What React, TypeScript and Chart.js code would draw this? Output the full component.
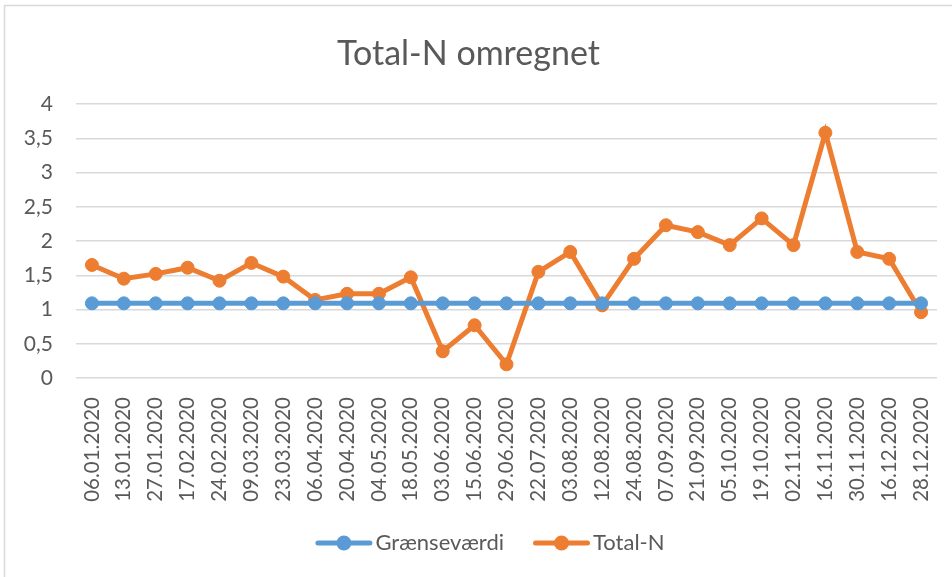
import React, { useEffect, useRef } from "react";
import { Chart, registerables } from "chart.js";

Chart.register(...registerables);

const categories = [
  "06.01.2020", "13.01.2020", "27.01.2020", "17.02.2020", "24.02.2020", "09.03.2020",
  "23.03.2020", "06.04.2020", "20.04.2020", "04.05.2020", "18.05.2020", "03.06.2020",
  "15.06.2020", "29.06.2020", "22.07.2020", "03.08.2020", "12.08.2020", "24.08.2020",
  "07.09.2020", "21.09.2020", "05.10.2020", "19.10.2020", "02.11.2020", "16.11.2020",
  "30.11.2020", "16.12.2020", "28.12.2020",
];

const grenseverdi = [
  1.09, 1.09, 1.09, 1.09, 1.09, 1.09, 1.09, 1.09, 1.09, 1.09, 1.09, 1.09, 1.09, 1.09,
  1.09, 1.09, 1.09, 1.09, 1.09, 1.09, 1.09, 1.09, 1.09, 1.09, 1.09, 1.09, 1.09,
];

const totalN = [
  1.65, 1.45, 1.52, 1.61, 1.42, 1.68, 1.48, 1.14, 1.23, 1.23, 1.47, 0.39, 0.77, 0.2,
  1.55, 1.84, 1.06, 1.74, 2.23, 2.13, 1.94, 2.33, 1.94, 3.58, 1.84, 1.74, 0.96,
];

const seriesNames = ["Grænseværdi", "Total-N"];
const yTicks = [0, 0.5, 1, 1.5, 2, 2.5, 3, 3.5, 4];
const titleText = "Total-N omregnet";

const BLUE = "#5b9bd5";
const ORANGE = "#ed7d31";
const TEXT = "#595959";
const GRID = "#d9d9d9";
const FONT = "Lato, 'Noto Sans', sans-serif";

const framePlugin = {
  id: "frame",
  beforeDraw(chart: any) {
    const ctx = chart.ctx;
    ctx.save();
    ctx.fillStyle = "#ffffff";
    ctx.fillRect(0, 0, chart.width, chart.height);
    ctx.strokeStyle = GRID;
    ctx.lineWidth = 1.5;
    ctx.beginPath();
    ctx.moveTo(4.5, chart.height);
    ctx.lineTo(4.5, 5.5);
    ctx.lineTo(chart.width, 5.5);
    ctx.stroke();
    ctx.restore();
  },
};

const legendPlugin = {
  id: "lineLegend",
  afterDraw(chart: any) {
    const ctx = chart.ctx;
    const ds = chart.data.datasets;
    ctx.save();
    ctx.font = `22px ${FONT}`;
    ctx.textBaseline = "middle";
    const symW = 57;
    const gap = 3;
    const itemGap = 29;
    const widths = ds.map((d: any) => ctx.measureText(d.label).width);
    const total =
      widths.reduce((a: number, b: number) => a + b, 0) +
      ds.length * (symW + gap) +
      (ds.length - 1) * itemGap;
    let x = (chart.width - total) / 2 + 14;
    const y = chart.height - 34;
    ds.forEach((d: any, i: number) => {
      ctx.strokeStyle = d.borderColor;
      ctx.lineWidth = 5;
      ctx.lineCap = "round";
      ctx.beginPath();
      ctx.moveTo(x + 2.5, y);
      ctx.lineTo(x + symW - 2.5, y);
      ctx.stroke();
      ctx.fillStyle = d.borderColor;
      ctx.beginPath();
      ctx.arc(x + symW / 2, y, 7.5, 0, Math.PI * 2);
      ctx.fill();
      ctx.fillStyle = TEXT;
      ctx.fillText(d.label, x + symW + gap, y);
      x += symW + gap + widths[i] + itemGap;
    });
    ctx.restore();
  },
};

export default function App() {
  const ref = useRef<HTMLCanvasElement | null>(null);

  useEffect(() => {
    if (!ref.current) return;
    const chart = new Chart(ref.current, {
      type: "line",
      data: {
        labels: categories,
        datasets: [
          {
            label: seriesNames[0],
            data: grenseverdi,
            borderColor: BLUE,
            backgroundColor: BLUE,
            borderWidth: 5,
            pointRadius: 6.5,
            pointBorderWidth: 1,
            pointBackgroundColor: BLUE,
            pointBorderColor: BLUE,
            tension: 0,
          },
          {
            label: seriesNames[1],
            data: totalN,
            borderColor: ORANGE,
            backgroundColor: ORANGE,
            borderWidth: 5,
            pointRadius: 6.5,
            pointBorderWidth: 1,
            pointBackgroundColor: ORANGE,
            pointBorderColor: ORANGE,
            tension: 0,
          },
        ],
      },
      options: {
        responsive: false,
        animation: false,
        events: [],
        layout: { padding: { left: 0, right: 15, top: 0, bottom: 60 } },
        plugins: {
          legend: { display: false },
          tooltip: { enabled: false },
          title: {
            display: true,
            text: titleText,
            color: TEXT,
            font: { family: FONT, size: 34, weight: "normal" as any, lineHeight: 1.2 },
            padding: { top: 34, bottom: 29.2 },
          },
        },
        scales: {
          x: {
            offset: true,
            grid: { display: false, drawTicks: false },
            border: { display: false },
            ticks: {
              color: TEXT,
              font: { family: FONT, size: 20.5 },
              minRotation: 90,
              maxRotation: 90,
              padding: 19,
              autoSkip: false,
            },
            afterFit(scale: any) {
              scale.height = 139;
              scale.paddingLeft = 0;
              scale.paddingRight = 0;
            },
          },
          y: {
            min: 0,
            max: 4,
            afterBuildTicks(scale: any) {
              scale.ticks = yTicks.map((v) => ({ value: v }));
            },
            grid: { color: GRID, lineWidth: 1.5, drawTicks: false },
            border: { display: false },
            ticks: {
              color: TEXT,
              font: { family: FONT, size: 21 },
              padding: 23,
              callback: (v: any) => String(v).replace(".", ","),
            },
            afterFit(scale: any) {
              scale.width = 76;
            },
          },
        },
      },
      plugins: [framePlugin, legendPlugin],
    });
    return () => chart.destroy();
  }, []);

  return (
    <div style={{ position: "absolute", left: 0, top: 0, width: 952, height: 577 }}>
      <canvas ref={ref} width={952} height={577} style={{ width: 952, height: 577 }} />
    </div>
  );
}
